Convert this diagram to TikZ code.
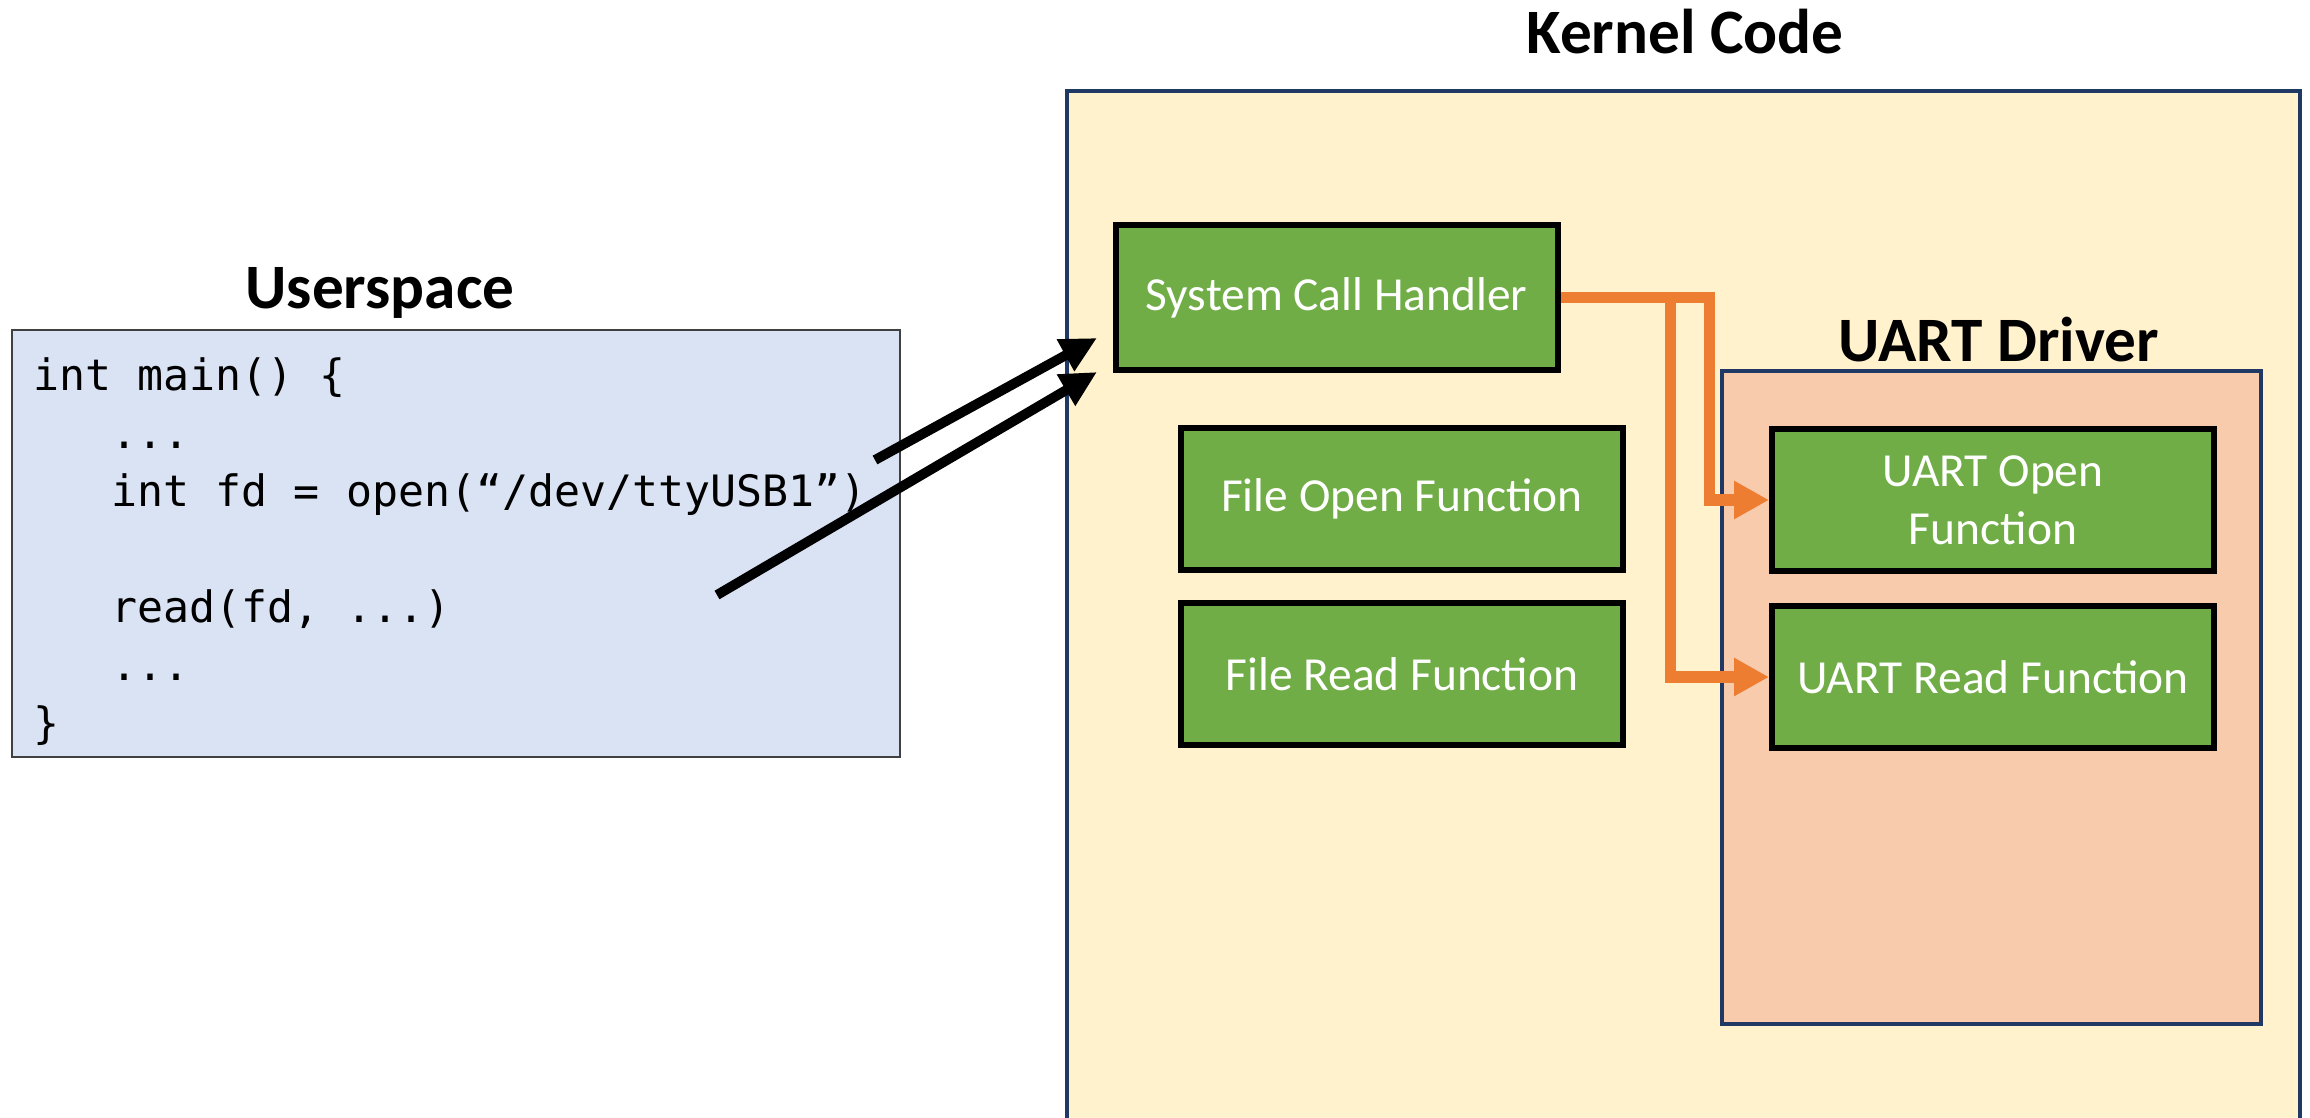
\documentclass[tikz,border=0pt]{standalone}
\usepackage{fontspec}
\setmainfont{Carlito}
\newfontfamily\codefont{DejaVu Sans Mono}
\usetikzlibrary{arrows.meta}

\definecolor{kernelfill}{HTML}{FFF2CC}
\definecolor{uartfill}{HTML}{F8CBAD}
\definecolor{userfill}{HTML}{DAE3F3}
\definecolor{funcgreen}{HTML}{70AD47}
\definecolor{callorange}{HTML}{ED7D31}
\definecolor{boxnavy}{HTML}{1F3864}

\begin{document}
\begin{tikzpicture}[
    title/.style={font=\fontsize{18}{22}\selectfont\bfseries},
    func/.style={draw=black, line width=1.7pt, fill=funcgreen, text=white,
        minimum width=4.42cm, minimum height=1.42cm, align=center,
        font=\fontsize{13.5}{16.5}\selectfont},
    region/.style={draw=boxnavy, line width=0.9pt, inner sep=0pt},
    callarrow/.style={line width=2.8pt, -{Triangle[length=3.6mm,width=3.4mm]}},
    dispatch/.style={draw=callorange, line width=3.4pt,
        -{Triangle[length=3.5mm,width=3.6mm]}}
]
    \useasboundingbox (0,0) rectangle (23.10,-11.18);

    % kernel side
    \node[region, fill=kernelfill, minimum width=12.33cm, minimum height=10.49cm] (kernel) at (16.835,-6.155) {};
    \node[title] (kerneltitle) at (16.85,-0.32) {Kernel Code};

    \node[region, fill=uartfill, minimum width=5.39cm, minimum height=6.53cm] (uart) at (19.915,-6.975) {};
    \node[title] (uarttitle) at (19.99,-3.40) {UART Driver};

    \node[func, minimum height=1.45cm] (sch) at (13.365,-2.975) {System Call Handler};
    \node[func] (fopen) at (14.02,-4.99) {File Open Function};
    \node[func] (fread) at (14.02,-6.74) {File Read Function};
    \node[func] (uopen) at (19.93,-5.00) {UART Open\\Function};
    \node[func] (uread) at (19.93,-6.77) {UART Read Function};

    \draw[dispatch] (sch.east) -- ++(1.49,0) |- (uopen.west);
    \draw[dispatch] (sch.east) -- ++(1.10,0) |- (uread.west);

    % user side
    \node[draw=black!75, line width=0.7pt, fill=userfill, minimum width=8.88cm, minimum height=4.27cm] (user) at (4.56,-5.435) {};
    \node[title] (usertitle) at (3.80,-2.93) {Userspace};

    % base anchor sits on the last line
    \node[anchor=base west, inner sep=0pt, align=left, font=\codefont\fontsize{12.3}{16.5}\selectfont] (code) at (0.33,-7.38)
        {int main() \{\\ ~~~...\\ ~~~int fd = open(“/dev/ttyUSB1”)\\[16.5pt] ~~~read(fd, ...)\\ ~~~...\\ \}};

    % syscalls
    \coordinate (openfrom) at (8.75,-4.60);
    \coordinate (readfrom) at (7.17,-5.95);
    \coordinate (opento) at (10.97,-3.38);
    \coordinate (readto) at (10.97,-3.72);

    \draw[callarrow] (openfrom) -- (opento);
    \draw[callarrow] (readfrom) -- (readto);
\end{tikzpicture}
\end{document}
